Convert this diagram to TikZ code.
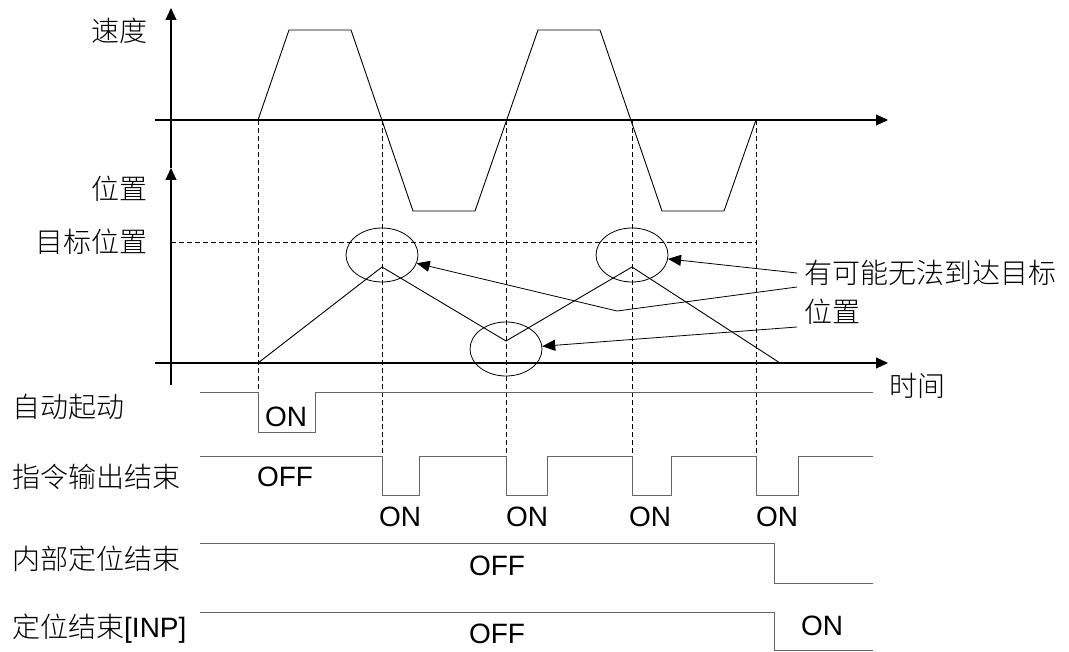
\documentclass[tikz,border=0pt]{standalone}
\usepackage{fontspec}
\setmainfont{Liberation Sans}
\newfontfamily\cjk{Noto Sans CJK SC Light}
\usetikzlibrary{arrows.meta, shapes.geometric}

\begin{document}
\begin{tikzpicture}[
    x=1pt, y=-1pt,
    axis/.style={line width=1.1pt, -{Triangle[length=12pt, width=11pt]}},
    wave/.style={line width=0.9pt},
    sig/.style={line width=1pt, draw=black!60},
    guide/.style={line width=0.8pt, dash pattern=on 5pt off 3pt},
    ring/.style={
        ellipse,
        draw,
        line width=0.8pt,
        minimum width=72pt,
        minimum height=54pt,
        inner sep=0pt
    },
    ptr/.style={line width=0.8pt, -{Triangle[length=13pt, width=11pt]}},
    lbl/.style={font=\fontsize{28}{39}\selectfont\cjk, inner sep=0pt},
    txt/.style={font=\fontsize{28}{39}\selectfont, inner sep=0pt}
]
\useasboundingbox (0,0) rectangle (1069,652);

\node[lbl, anchor=east] (speed) at (148,31) {速度};
\node[lbl, anchor=east] (pos) at (148,189) {位置};
\node[lbl, anchor=east] (target) at (148,242) {目标位置};
\node[lbl, anchor=west] (time) at (889,386) {时间};
\node[lbl, anchor=west] (autostart) at (12,407) {自动起动};
\node[lbl, anchor=west] (cmdend) at (12,477) {指令输出结束};
\node[lbl, anchor=west] (innerend) at (12,559) {内部定位结束};
\node[lbl, anchor=west] (inp) at (12,629) {定位结束\normalfont[INP]};
\node[lbl, anchor=west, align=left] (note) at (804,292) {有可能无法到达目标\\位置};

\draw[guide] (171,242) -- (756,242);
\draw[guide] (258,120) -- (258,393);
\foreach \x in {382,506,632,756}
    \draw[guide] (\x,120) -- (\x,456);

\draw[axis] (171,168) -- (171,8);
\draw[axis] (171,385) -- (171,168);
\draw[axis] (155,120) -- (888,120);
\draw[axis] (155,363) -- (888,363);

\draw[wave] (258,120) -- (289,30) -- (351,30) -- (413,211) -- (475,211) -- (538,30)
    -- (600,30) -- (662,211) -- (724,211) -- (756,120);
\draw[wave] (258,363) -- (382,267) -- (506,341) -- (632,267) -- (780,363);

\node[ring] (peakA) at (382,255) {};
\node[ring] (dip) at (506,349) {};
\node[ring] (peakB) at (632,255) {};

\coordinate (s1) at (797,273);
\coordinate (s2) at (797,287);
\coordinate (bend) at (617,311);
\coordinate (s3) at (797,327);
\draw[ptr] (s1) -- (peakB);
\draw[ptr] (s2) -- (bend) -- (peakA);
\draw[ptr] (s3) -- (dip);

\draw[sig] (200,393) -- (258,393) -- (258,432) -- (315,432) -- (315,393) -- (873,393);
\draw[sig] (200,456) -- (382,456) -- (382,495) -- (419,495) -- (419,456)
    -- (506,456) -- (506,495) -- (547,495) -- (547,456)
    -- (632,456) -- (632,495) -- (671,495) -- (671,456)
    -- (756,456) -- (756,495) -- (798,495) -- (798,456) -- (873,456);
\draw[sig] (200,543) -- (774,543) -- (774,583) -- (873,583);
\draw[sig] (200,612) -- (774,612) -- (774,650) -- (873,650);

\node[txt] (on0) at (286,417) {ON};
\node[txt] (off0) at (285,477) {OFF};
\node[txt] (on1) at (400,517) {ON};
\node[txt] (on2) at (527,517) {ON};
\node[txt] (on3) at (650,517) {ON};
\node[txt] (on4) at (777,517) {ON};
\node[txt] (off1) at (497,566) {OFF};
\node[txt] (off2) at (497,634) {OFF};
\node[txt] (on5) at (822,626) {ON};

\end{tikzpicture}
\end{document}
